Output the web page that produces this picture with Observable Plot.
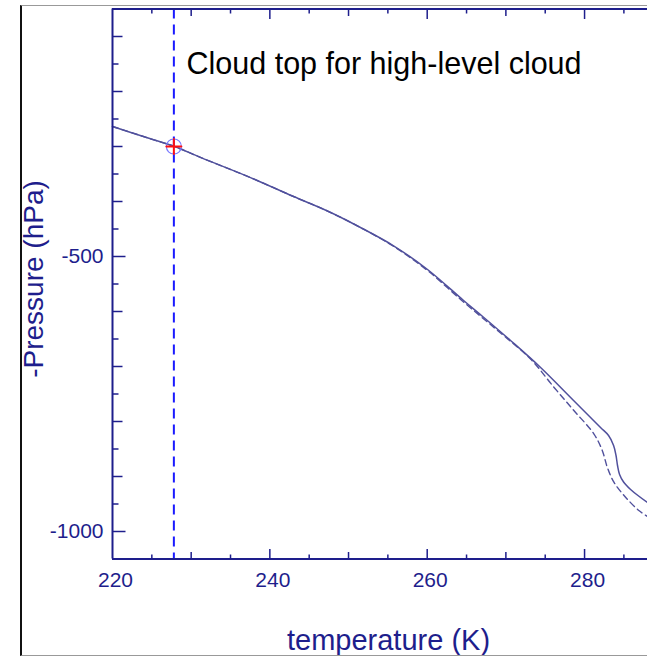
<!DOCTYPE html>
<html><head><meta charset="utf-8">
<script src="https://cdn.jsdelivr.net/npm/d3@7"></script>
<script src="https://cdn.jsdelivr.net/npm/@observablehq/plot@0.6"></script>
<style>
html,body{margin:0;padding:0;background:#fff;}
#wrap{position:relative;width:647px;height:657px;overflow:hidden;}
#chart{position:absolute;left:0;top:0;}
#border{position:absolute;left:20px;top:5px;width:660px;height:651px;border-left:2px solid #111;border-top:1.5px solid #999;border-bottom:1.5px solid #999;box-sizing:border-box;pointer-events:none;z-index:2;}
</style></head><body>
<div id="wrap"><div id="chart"></div><div id="border"></div></div>
<script>
// Temperature profile (solid) and comparison profile (dashed)
const solidT = [220.0, 224.83, 227.88, 231.18, 237.54, 243.01, 247.33, 251.52, 255.72, 260.04, 264.62, 267.16, 270.59, 274.41, 278.60, 282.03, 283.05, 283.69, 284.00, 284.19, 284.45, 284.96, 285.85, 286.87, 288.01];
const solidP = [-263.6, -286, -300, -319.8, -356.5, -390.9, -417.3, -447.3, -480.5, -523.6, -580, -610.4, -652.7, -701.8, -761.8, -810.9, -825.5, -843.6, -861.8, -880, -896.4, -910, -923.6, -935.5, -947.3];
const dashT = [220.0, 224.83, 227.88, 231.18, 237.54, 243.01, 247.33, 251.52, 255.72, 260.04, 264.62, 268.94, 273.14, 276.10, 278.64, 281.18, 282.25, 282.89, 283.73, 285.21, 286.90, 288.01];
const dashP = [-263.6, -286, -300, -319.8, -356.5, -390.9, -417.3, -447.3, -481.5, -525.5, -582.7, -634.5, -686.4, -737.6, -780, -822.4, -852.7, -883.1, -910.4, -937.6, -961.8, -972.7];
// Cloud top marker
const cloudTopT = 227.8;
const cloudTopP = -300;
const annotation = "Cloud top for high-level cloud";
// Axes
const xDomain = [220, 288];
const yDomain = [-1050, -50];
const xTickLabels = [220, 240, 260, 280];
const yTickLabels = [-1000, -500];
const xTicksMajor = [240, 260, 280];
const xTicksMid = [230, 250, 270];
const xTicksMinor = [225, 235, 245, 255, 265, 275, 285];
const yTicksMajor = [-1000, -500];
const yTicksMid = [-900, -800, -700, -600, -400, -300, -200, -100];
const yTicksMinor = [-950, -850, -750, -650, -550, -450, -350, -250, -150];
const xLabel = "temperature (K)";
const yLabel = "-Pressure (hPa)";

const solid = solidT.map((T, i) => ({T, p: solidP[i]}));
const dashed = dashT.map((T, i) => ({T, p: dashP[i]}));
const cloud = [{T: cloudTopT, p: cloudTopP}];

const navy = "#1e1e8c";
const lineColor = "#50509c";
const tickShape = {draw(ctx, l) { ctx.moveTo(0, 0); ctx.lineTo(0, -l); }};
const plusShape = {draw(ctx, l) { ctx.moveTo(-l, 0); ctx.lineTo(l, 0); ctx.moveTo(0, -l); ctx.lineTo(0, l); }};

function ticks(values, len, side) {
  const o = {length: len, anchor: "start", shape: tickShape, stroke: navy, strokeWidth: 1.5, strokeLinecap: "butt"};
  if (side === "left") return Plot.vector(values, {...o, x: xDomain[0], y: d => d, rotate: 90});
  if (side === "bottom") return Plot.vector(values, {...o, x: d => d, y: yDomain[0], rotate: 0});
  return Plot.vector(values, {...o, x: d => d, y: yDomain[1], rotate: 180});
}

const fig = Plot.plot({
  width: 647,
  height: 657,
  marginLeft: 112,
  marginRight: 0,
  marginTop: 8.5,
  marginBottom: 98.5,
  x: {domain: xDomain},
  y: {domain: yDomain},
  style: {fontFamily: "'Liberation Sans', Arial, sans-serif", background: "transparent", overflow: "visible"},
  marks: [
    Plot.ruleX([cloudTopT], {stroke: "#1a1aff", strokeWidth: 2, strokeDasharray: "10,6"}),
    Plot.line(dashed, {x: "T", y: "p", stroke: lineColor, strokeWidth: 1.4, strokeDasharray: "6,4", curve: "catmull-rom"}),
    Plot.line(solid, {x: "T", y: "p", stroke: lineColor, strokeWidth: 1.5, curve: "catmull-rom"}),
    Plot.dot(cloud, {x: "T", y: "p", r: 7.5, stroke: "#7a7aff", strokeWidth: 1.2, fill: "none"}),
    Plot.vector(cloud, {x: "T", y: "p", length: 7.5, anchor: "start", shape: plusShape, stroke: "#ff1010", strokeWidth: 2}),
    // axis lines
    Plot.ruleX([xDomain[0]], {stroke: navy, strokeWidth: 2}),
    Plot.ruleY([yDomain[0]], {stroke: navy, strokeWidth: 2}),
    Plot.ruleY([yDomain[1]], {stroke: navy, strokeWidth: 2}),
    // inward ticks
    ticks(yTicksMajor, 13, "left"),
    ticks(yTicksMid, 10, "left"),
    ticks(yTicksMinor, 6, "left"),
    ticks(xTicksMajor, 10, "bottom"),
    ticks(xTicksMid, 7, "bottom"),
    ticks(xTicksMinor, 4.5, "bottom"),
    ticks(xTicksMajor, 10, "top"),
    ticks(xTicksMid, 7, "top"),
    ticks(xTicksMinor, 4.5, "top"),
    // tick labels
    Plot.axisX(xTickLabels, {anchor: "bottom", tickSize: 0, tickPadding: 13.5, fontSize: 21, fill: navy, dx: 3, label: null, tickFormat: d => String(d)}),
    Plot.axisY(yTickLabels, {anchor: "left", tickSize: 0, tickPadding: 9, fontSize: 21, fill: navy, label: null, tickFormat: d => String(d)}),
    // labels
    Plot.text([yLabel], {text: d => d, frameAnchor: "left", rotate: -90, dx: -70, dy: -5, lineAnchor: "bottom", textAnchor: "middle", fontSize: 28, fill: navy}),
    Plot.text([xLabel], {text: d => d, frameAnchor: "bottom", dx: 8.5, dy: 90.5, lineAnchor: "bottom", textAnchor: "middle", fontSize: 29, fill: navy}),
    Plot.text([annotation], {text: d => d, frameAnchor: "top-left", dx: 74, dy: 64.5, lineAnchor: "bottom", textAnchor: "start", fontSize: 30.5, fill: "#000"})
  ]
});
document.getElementById("chart").appendChild(fig);
</script>
</body></html>
